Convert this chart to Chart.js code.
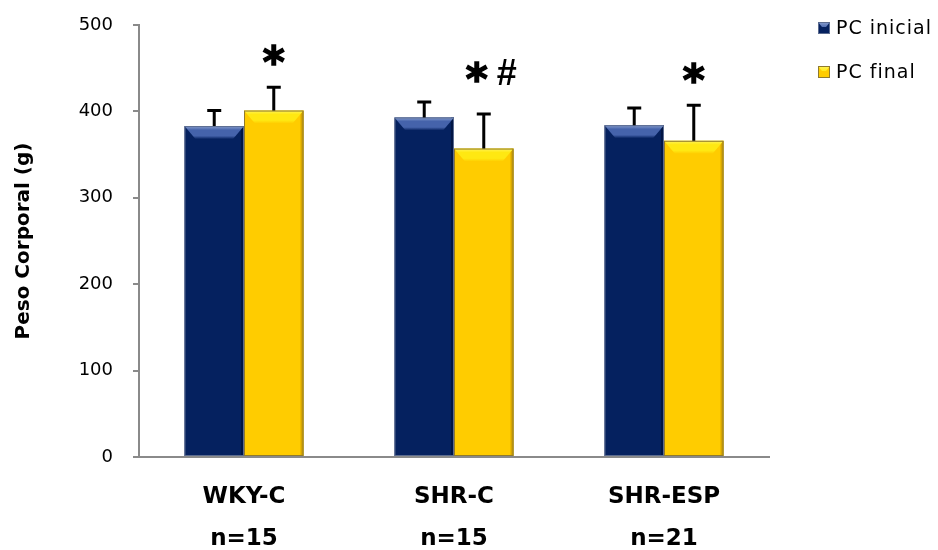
<!DOCTYPE html>
<html><head><meta charset="utf-8">
<script src="https://cdn.jsdelivr.net/npm/chart.js@4.4.1/dist/chart.umd.min.js"></script>
<style>html,body{margin:0;padding:0;background:#fff}#wrap{width:938px;height:550px}</style>
</head><body><div id="wrap"><canvas id="c" width="938" height="550"></canvas></div>
<script>
// ---- data ----
const groups = ['WKY-C', 'SHR-C', 'SHR-ESP'];
const groupN = ['n=15', 'n=15', 'n=21'];
const seriesNames = ['PC inicial', 'PC final'];
const pcInicial = [383, 393, 384];
const pcInicialSD = [18, 18, 20];
const pcFinal = [401, 357, 366];
const pcFinalSD = [27, 40, 41];
const significance = ['*', '* #', '*'];
const yAxisTitle = 'Peso Corporal (g)';

// ---- styles ----
const NAVY = '#05215F', GOLD = '#FFCC00';
const barStyles = [
  {base: NAVY, hiTop: '#8aa0d0', hiMid: '#4563ab', right: '#021645', edge: '#5b6b8f'},
  {base: GOLD, hiTop: '#fff45a', hiMid: '#ffe812', right: '#d6a600', edge: '#8f7a2e'}
];
const annotationGaps = [32, 42, 32];

function drawBevel(ctx, left, right, top, bottom, st) {
  const w = right - left, h = bottom - top;
  if (h <= 0) return;
  const bh = Math.min(13, h), inset = Math.min(11, w / 4);
  ctx.save();
  ctx.fillStyle = st.right; ctx.fillRect(right - 3, top, 3, h);
  const g = ctx.createLinearGradient(0, top, 0, top + bh);
  g.addColorStop(0, st.hiTop); g.addColorStop(0.3, st.hiMid); g.addColorStop(0.75, st.hiMid); g.addColorStop(1, st.base);
  ctx.beginPath(); ctx.moveTo(left, top); ctx.lineTo(right, top);
  ctx.lineTo(right - inset, top + bh); ctx.lineTo(left + inset, top + bh); ctx.closePath();
  ctx.fillStyle = g; ctx.fill();
  ctx.strokeStyle = st.edge; ctx.lineWidth = 1;
  ctx.strokeRect(left + 0.5, top + 0.5, w - 1, h - 1);
  ctx.restore();
}

const decorPlugin = {
  id: 'decor',
  afterDatasetsDraw(chart) {
    const ctx = chart.ctx, ys = chart.scales.y;
    chart.data.datasets.forEach((ds, d) => {
      const meta = chart.getDatasetMeta(d);
      meta.data.forEach((bar, i) => {
        const p = bar.getProps(['x', 'y', 'base', 'width'], true);
        drawBevel(ctx, p.x - p.width / 2, p.x + p.width / 2, p.y, p.base, barStyles[d]);
        const top = ys.getPixelForValue(ds.data[i] + ds.sd[i]);
        ctx.save();
        ctx.strokeStyle = '#000'; ctx.lineWidth = 3;
        ctx.beginPath(); ctx.moveTo(p.x, p.y); ctx.lineTo(p.x, top);
        ctx.moveTo(p.x - 7, top); ctx.lineTo(p.x + 7, top); ctx.stroke();
        ctx.restore();
      });
    });
    // significance marks above the PC final bars
    const fd = chart.data.datasets[1], fm = chart.getDatasetMeta(1);
    fm.data.forEach((bar, i) => {
      const tokens = significance[i].split(' ');
      const errTop = ys.getPixelForValue(fd.data[i] + fd.sd[i]);
      const cy = errTop - annotationGaps[i];
      const n = tokens.length;
      tokens.forEach((t, k) => {
        const cx = bar.x + (k - (n - 1) / 2) * 30 + 8 * (n - 1);
        ctx.save();
        ctx.fillStyle = '#000'; ctx.strokeStyle = '#000'; ctx.lineWidth = 1.5;
        ctx.font = t === '*' ? 'bold 42px "DejaVu Sans"' : 'bold 36px "Liberation Sans"';
        ctx.textAlign = 'center'; ctx.textBaseline = 'alphabetic';
        const m = ctx.measureText(t);
        const base = cy + (m.actualBoundingBoxAscent - m.actualBoundingBoxDescent) / 2;
        ctx.fillText(t, cx, base);
        if (t === '*') ctx.strokeText(t, cx, base);
        ctx.restore();
      });
    });
  },
  afterDraw(chart) {
    const ctx = chart.ctx;
    const rows = [28, 72];
    chart.data.datasets.forEach((ds, d) => {
      const cy = rows[d];
      const st = barStyles[d];
      ctx.save();
      ctx.fillStyle = st.base; ctx.fillRect(818, cy - 6, 12, 12);
      const g = ctx.createLinearGradient(0, cy - 6, 0, cy);
      g.addColorStop(0, st.hiTop); g.addColorStop(1, st.hiMid);
      ctx.beginPath(); ctx.moveTo(818, cy - 6); ctx.lineTo(830, cy - 6); ctx.lineTo(826, cy - 1); ctx.lineTo(822, cy - 1); ctx.closePath();
      ctx.fillStyle = g; ctx.fill();
      ctx.strokeStyle = st.edge; ctx.lineWidth = 1; ctx.strokeRect(818.5, cy - 5.5, 11, 11);
      ctx.fillStyle = '#000';
      ctx.font = '19px "DejaVu Sans"';
      try { ctx.letterSpacing = '1px'; } catch (e) {}
      ctx.textAlign = 'left'; ctx.textBaseline = 'middle';
      ctx.fillText(ds.label, 836, cy + 1);
      ctx.restore();
    });
  }
};

new Chart(document.getElementById('c'), {
  type: 'bar',
  data: {
    labels: groups.map((g, i) => [g, groupN[i]]),
    datasets: [
      {label: seriesNames[0], data: pcInicial, sd: pcInicialSD, backgroundColor: NAVY, borderWidth: 0},
      {label: seriesNames[1], data: pcFinal, sd: pcFinalSD, backgroundColor: GOLD, borderWidth: 0}
    ]
  },
  options: {
    responsive: false,
    animation: false,
    events: [],
    layout: {padding: {top: 25, right: 169, left: 0, bottom: 0}},
    datasets: {bar: {categoryPercentage: 0.567, barPercentage: 1.0}},
    plugins: {legend: {display: false}, tooltip: {enabled: false}},
    scales: {
      x: {
        grid: {display: false, drawTicks: false},
        border: {display: true, color: '#8a8a8a', width: 2},
        ticks: {color: '#000', padding: 19, font: {family: 'DejaVu Sans', size: 23, weight: 'bold', lineHeight: 1.82}},
        afterFit(s) { s.height = 93; s.paddingTop = 0; s.paddingBottom = 0; }
      },
      y: {
        min: 0, max: 500,
        grid: {drawOnChartArea: false, drawTicks: true, tickLength: 6, color: '#8a8a8a', lineWidth: 2},
        border: {display: true, color: '#8a8a8a', width: 2},
        ticks: {stepSize: 100, color: '#000', padding: 20, font: {family: 'DejaVu Sans', size: 18}},
        title: {display: true, text: yAxisTitle, color: '#000', padding: {top: 12, bottom: 0}, font: {family: 'DejaVu Sans', size: 20, weight: 'bold'}},
        afterFit(s) { s.width = 139; s.paddingTop = 0; s.paddingBottom = 0; }
      }
    }
  },
  plugins: [decorPlugin]
});
</script>
</body></html>
